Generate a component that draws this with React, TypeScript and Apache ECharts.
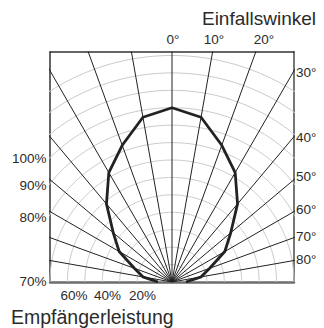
import React, { useEffect, useRef } from "react";
import * as echarts from "echarts";

// Relative receiver sensitivity (%) versus angle of incidence (degrees)
const ANGLES = [0, 10, 20, 30, 40, 50, 60, 70, 80, 90];
const SENSITIVITY = [100, 96, 83.5, 72.5, 58.5, 44, 35, 23, 17, 8];

// Grid rings (% values) and spokes (degrees)
const RING_PCTS = [10, 20, 30, 40, 50, 60, 70, 80, 90, 100, 110, 120, 130];
const SPOKE_ANGLES = [-80, -70, -60, -50, -40, -30, -20, -10, 0, 10, 20, 30, 40, 50, 60, 70, 80];

// Tick labels
const TOP_ANGLE_LABELS = ["0°", "10°", "20°"];
const RIGHT_ANGLE_LABELS = ["30°", "40°", "50°", "60°", "70°", "80°"];
const LEFT_PCT_LABELS = ["100%", "90%", "80%", "70%"];
const BOTTOM_PCT_LABELS = ["60%", "40%", "20%"];
const TITLE_TOP = "Einfallswinkel";
const TITLE_BOTTOM = "Empfängerleistung";

const rad = (d: number) => (d * Math.PI) / 180;
const toXY = (angleDeg: number, pct: number) => [
  (pct / 10) * Math.sin(rad(angleDeg)),
  (pct / 10) * Math.cos(rad(angleDeg)),
];

export default function App() {
  const ref = useRef<HTMLDivElement>(null);

  useEffect(() => {
    if (!ref.current) return;
    const chart = echarts.init(ref.current, undefined, { renderer: "svg" });

    const ringSeries = RING_PCTS.map((p) => {
      const pts: number[][] = [];
      for (let a = -90; a <= 90; a += 1) pts.push(toXY(a, p));
      return {
        type: "line",
        data: pts,
        showSymbol: false,
        silent: true,
        clip: true,
        z: 1,
        lineStyle: { color: "#c9c9c9", width: 1 },
      };
    });

    const spokeSeries = SPOKE_ANGLES.map((a) => ({
      type: "line",
      data: [[0, 0], toXY(a, 300)],
      showSymbol: false,
      silent: true,
      clip: true,
      z: 2,
      lineStyle: { color: "#222", width: 1 },
    }));

    const curve: number[][] = [];
    for (let i = ANGLES.length - 1; i >= 0; i--) curve.push(toXY(-ANGLES[i], SENSITIVITY[i]));
    for (let i = 1; i < ANGLES.length; i++) curve.push(toXY(ANGLES[i], SENSITIVITY[i]));

    const font = (s: number) => `${s}px "Liberation Sans", Arial, sans-serif`;
    const txt = (
      text: string,
      x: number,
      y: number,
      align: string,
      size = 13.5
    ) => ({
      type: "text",
      x,
      y,
      silent: true,
      style: {
        text,
        fill: "#2b2b2b",
        font: font(size),
        textAlign: align,
        textVerticalAlign: "middle",
      },
    });

    const topX = [173, 214, 264];
    const rightY = [72, 137, 176, 209, 236, 259];
    const leftY = [158, 185, 217, 281];
    const bottomX = [74, 107.5, 142.5];

    const graphics: any[] = [
      txt(TITLE_TOP, 316, 18, "right", 19),
      txt(TITLE_BOTTOM, 11, 317, "left", 19.5),
      ...TOP_ANGLE_LABELS.map((t, i) => txt(t, topX[i], 39, "center")),
      ...RIGHT_ANGLE_LABELS.map((t, i) => txt(t, 296, rightY[i], "left")),
      ...LEFT_PCT_LABELS.map((t, i) => txt(t, 46.5, leftY[i], "right")),
      ...BOTTOM_PCT_LABELS.map((t, i) => txt(t, bottomX[i], 295, "center")),
    ];

    const hidden = { show: false };
    chart.setOption({
      animation: false,
      grid: { left: 50, right: 30, top: 52, bottom: 46 },
      xAxis: [
        {
          type: "value",
          min: -7,
          max: 7,
          position: "bottom",
          axisLine: { show: true, onZero: false, lineStyle: { color: "#6e6e6e", width: 2.5 } },
          axisTick: hidden,
          axisLabel: hidden,
          splitLine: hidden,
        },
        {
          type: "value",
          min: -7,
          max: 7,
          position: "top",
          axisLine: { show: true, onZero: false, lineStyle: { color: "#333", width: 1.5 } },
          axisTick: hidden,
          axisLabel: hidden,
          splitLine: hidden,
        },
      ],
      yAxis: [
        {
          type: "value",
          min: 0,
          max: 13.2,
          position: "left",
          axisLine: { show: true, onZero: false, lineStyle: { color: "#333", width: 1.5 } },
          axisTick: hidden,
          axisLabel: hidden,
          splitLine: hidden,
        },
        {
          type: "value",
          min: 0,
          max: 13.2,
          position: "right",
          axisLine: { show: true, onZero: false, lineStyle: { color: "#777", width: 2 } },
          axisTick: hidden,
          axisLabel: hidden,
          splitLine: hidden,
        },
      ],
      series: [
        ...ringSeries,
        ...spokeSeries,
        {
          type: "line",
          data: curve,
          showSymbol: false,
          silent: true,
          clip: true,
          z: 3,
          lineStyle: { color: "#222", width: 2.8, join: "round" },
        },
      ],
      graphic: graphics,
    });

    return () => chart.dispose();
  }, []);

  return (
    <div
      ref={ref}
      style={{ position: "fixed", left: 0, top: 0, width: 324, height: 328, background: "#fff" }}
    />
  );
}
